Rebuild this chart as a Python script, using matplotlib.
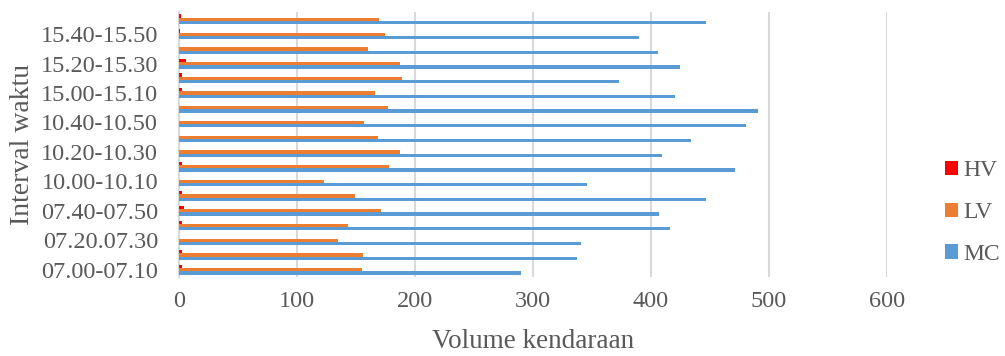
import matplotlib
matplotlib.use("Agg")
import matplotlib.pyplot as plt
import numpy as np

intervals = [
    "07.00-07.10", "07.10-07.20", "07.20.07.30", "07.30-07.40", "07.40-07.50", "07.50-08.00",
    "10.00-10.10", "10.10-10.20", "10.20-10.30", "10.30-10.40", "10.40-10.50", "10.50-11.00",
    "15.00-15.10", "15.10-15.20", "15.20-15.30", "15.30-15.40", "15.40-15.50", "15.50-16.00",
]
mc = [290, 337, 341, 416, 407, 447, 346, 471, 409, 434, 481, 491, 420, 373, 425, 406, 390, 447]
lv = [155, 156, 135, 143, 171, 149, 123, 178, 187, 169, 157, 177, 166, 189, 187, 160, 175, 170]
hv = [3, 3, 0, 3, 4, 3, 0, 3, 0, 0, 0, 0, 3, 3, 6, 0, 1, 2]

plt.rcParams['font.family'] = ['Liberation Serif', 'DejaVu Serif']
text_color = '#595959'

fig = plt.figure(figsize=(10.05, 3.56), dpi=100)
ax = fig.add_axes([0.178, 0.222, 0.7045, 0.744])

y = np.arange(len(intervals))
h = 0.225
ax.barh(y - h, mc, height=h, color='#5B9BD5', label='MC', zorder=3)
ax.barh(y, lv, height=h, color='#ED7D31', label='LV', zorder=3)
ax.barh(y + h, hv, height=h, color='#FF0000', label='HV', zorder=3)

ax.set_xlim(0, 600)
ax.set_ylim(-0.5, len(intervals) - 0.5)
ax.set_xticks(np.arange(0, 601, 100))
ax.set_yticks(y[::2])
ax.set_yticklabels(intervals[::2])
ax.tick_params(axis='both', length=0, labelsize=17.5, colors=text_color)
ax.tick_params(axis='x', pad=10)
ax.tick_params(axis='y', pad=15)

ax.grid(axis='x', color='#d9d9d9', linewidth=1.5, zorder=0)
for s in ['top', 'right', 'bottom']:
    ax.spines[s].set_visible(False)
ax.spines['left'].set_color('#d9d9d9')
ax.spines['left'].set_linewidth(1.5)

ax.set_xlabel('Volume kendaraan', fontsize=19.5, color=text_color, labelpad=12)
ax.set_ylabel('Interval waktu', fontsize=20, color=text_color, labelpad=4)

handles, labels = ax.get_legend_handles_labels()
leg = fig.legend(handles[::-1], labels[::-1], loc='center left',
                 bbox_to_anchor=(0.940, 0.403), frameon=False, fontsize=17,
                 handlelength=0.55, handleheight=0.55, handletextpad=0.22,
                 labelspacing=0.88, borderaxespad=0, borderpad=0)
for t in leg.get_texts():
    t.set_color(text_color)

fig.savefig('out.png', dpi=100)
